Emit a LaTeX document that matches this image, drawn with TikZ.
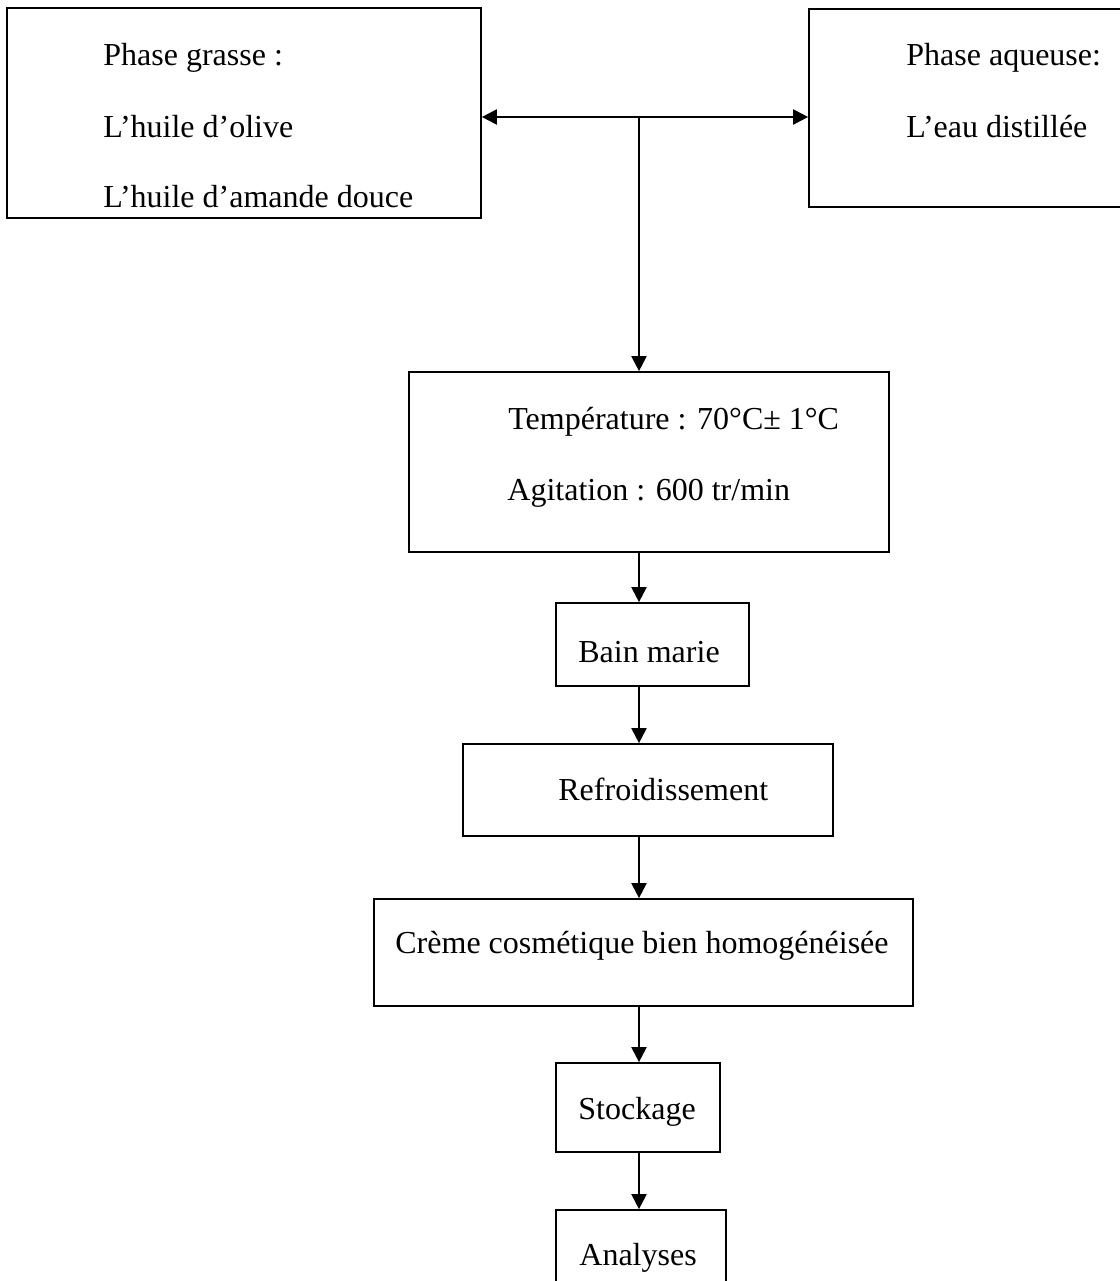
\documentclass[tikz,border=0pt]{standalone}
\usepackage{fontspec}
\setmainfont{Liberation Serif}
\usetikzlibrary{arrows.meta,positioning}
\definecolor{FlowInk}{HTML}{000000}
\tikzset{
  flow/box/.style={
    draw=FlowInk, line width=.85pt, fill=white, rectangle, inner sep=0pt
  },
  flow/label/.style={
    font=\fontsize{16}{19}\selectfont, text=FlowInk,
    inner sep=0pt, anchor=base west
  },
  flow/arrow/.style={
    -{Triangle[length=7.5pt,width=7.5pt]}, line width=1pt, draw=FlowInk
  },
  flow/both/.style={
    {Triangle[length=7.5pt,width=7.5pt]}-{Triangle[length=7.5pt,width=7.5pt]},
    line width=1pt, draw=FlowInk
  }
}

\begin{document}
\begin{tikzpicture}[x=.5pt,y=-.5pt]
  \useasboundingbox (0,0) rectangle (1120,1281);
  \clip (0,0) rectangle (1120,1281);
  % the two phases
  \node[flow/box,minimum width=237pt,minimum height=105pt] (grasse) at (244,113) {};
  \node[flow/box,minimum width=165.5pt,minimum height=99pt] (aqueuse) at (974.5,108) {};
  \node[flow/label] (grasseA) at (103,65) {Phase grasse :};
  \node[flow/label] (grasseB) at (103,137) {L’huile d’olive};
  \node[flow/label] (grasseC) at (103,207) {L’huile d’amande douce};
  \node[flow/label] (aqueuseA) at (906,65) {Phase aqueuse:};
  \node[flow/label] (aqueuseB) at (906,137) {L’eau distillée};
  % process steps
  \node[flow/box,minimum width=240pt,minimum height=90pt] (chauffe) at (649,462) {};
  \node[flow/label] (chauffeA) at (508,429) {Température : 70°C± 1°C};
  \node[flow/label] (chauffeB) at (507,500) {Agitation : 600 tr/min};
  \node[flow/box,minimum width=96.5pt,minimum height=41.5pt] (bain) at (652.5,644.5) {};
  \node[flow/label] (bainT) at (578,662) {Bain marie};
  \node[flow/box,minimum width=185pt,minimum height=46pt] (froid) at (648,790) {};
  \node[flow/label] (froidT) at (558,800) {Refroidissement};
  \node[flow/box,minimum width=269.5pt,minimum height=53.5pt] (creme) at (643.5,952.5) {};
  \node[flow/label] (cremeT) at (395,953) {Crème cosmétique bien homogénéisée};
  \node[flow/box,minimum width=82pt,minimum height=44.5pt] (stock) at (638,1107.5) {};
  \node[flow/label] (stockT) at (578,1119) {Stockage};
  \node[flow/box,minimum width=85pt,minimum height=50pt] (analyse) at (641,1260) {};
  \node[flow/label] (analyseT) at (579,1265) {Analyses};
  % connectors
  \coordinate (junction) at (639,117);
  \draw[flow/both] (grasse.east |- junction) -- (aqueuse.west |- junction);
  \draw[flow/arrow] (junction) -- (chauffe.north -| junction);
  \draw[flow/arrow] (chauffe.south -| junction) -- (bain.north -| junction);
  \draw[flow/arrow] (bain.south -| junction) -- (froid.north -| junction);
  \draw[flow/arrow] (froid.south -| junction) -- (creme.north -| junction);
  \draw[flow/arrow] (creme.south -| junction) -- (stock.north -| junction);
  \draw[flow/arrow] (stock.south -| junction) -- (analyse.north -| junction);
\end{tikzpicture}
\end{document}
